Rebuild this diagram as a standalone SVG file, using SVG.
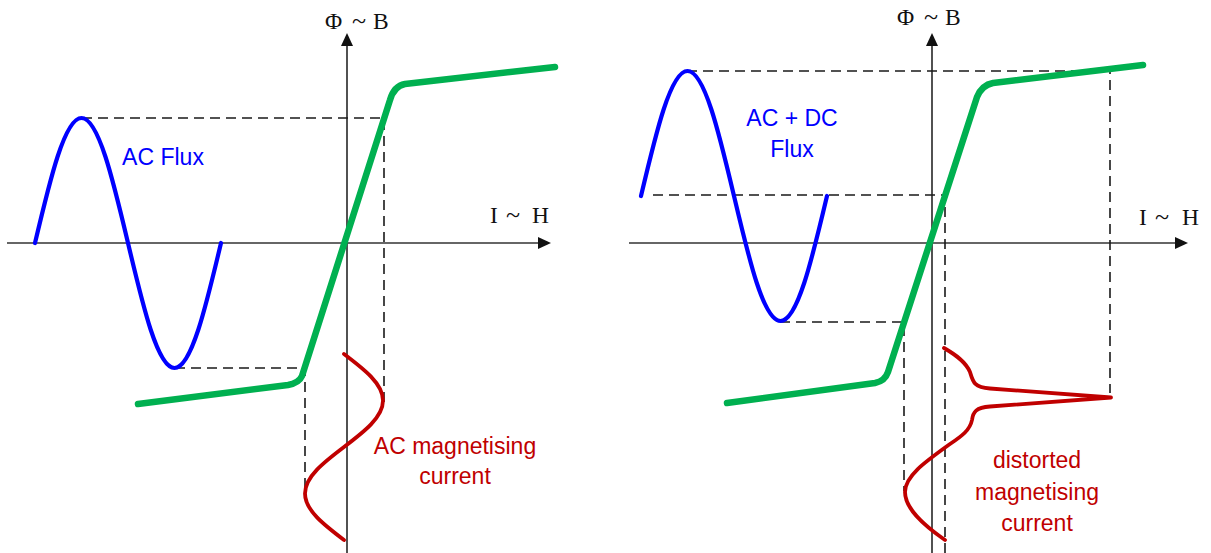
<svg xmlns="http://www.w3.org/2000/svg" width="1211" height="553" viewBox="0 0 1211 553">
<style>
.axis{stroke:#333;stroke-width:1.7;fill:none}
.dash{stroke:#1a1a1a;stroke-width:1.6;fill:none;stroke-dasharray:10 6}
.bh{stroke:#00b050;stroke-width:6.5;fill:none;stroke-linecap:round;stroke-linejoin:round}
.flux{stroke:#0000ff;stroke-width:4.2;fill:none;stroke-linecap:round}
.cur{stroke:#c00000;stroke-width:3.8;fill:none;stroke-linecap:round;stroke-linejoin:round}
.ax-lbl{font-family:"Liberation Serif","Times New Roman",serif;font-size:23.5px;fill:#111}
.blue-lbl{font-family:"Liberation Sans",Arial,sans-serif;font-size:23px;fill:#0000ff;text-anchor:middle}
.red-lbl{font-family:"Liberation Sans",Arial,sans-serif;font-size:23px;fill:#c00000;text-anchor:middle}
</style>
<defs>
<marker id="arr" markerUnits="userSpaceOnUse" markerWidth="14" markerHeight="12" refX="1" refY="6" orient="auto">
<path d="M0,0 L13,6 L0,12 z" fill="#111"/>
</marker>
</defs>

<g id="axes-left">
<line class="axis" x1="7" y1="243" x2="539" y2="243" marker-end="url(#arr)"/>
<line class="axis" x1="347" y1="553" x2="347" y2="45" marker-end="url(#arr)"/>
<text class="ax-lbl" y="29"><tspan x="325">Φ</tspan><tspan x="352" font-size="26">~</tspan><tspan x="373">B</tspan></text>
<text class="ax-lbl" y="223"><tspan x="490">I</tspan><tspan x="506" font-size="26">~</tspan><tspan x="532">H</tspan></text>
</g>

<g id="axes-right">
<line class="axis" x1="629" y1="243" x2="1176" y2="243" marker-end="url(#arr)"/>
<line class="axis" x1="932" y1="553" x2="932" y2="45" marker-end="url(#arr)"/>
<text class="ax-lbl" y="25"><tspan x="897">Φ</tspan><tspan x="924" font-size="26">~</tspan><tspan x="945">B</tspan></text>
<text class="ax-lbl" y="225"><tspan x="1139">I</tspan><tspan x="1155" font-size="26">~</tspan><tspan x="1182">H</tspan></text>
</g>

<g id="connectors">
<path class="dash" d="M82,118 H384 V405"/>
<path class="dash" d="M175,368 H305 V492"/>
<path class="dash" d="M687,71 H1110 V393"/>
<path class="dash" d="M653,195 H945 V553"/>
<path class="dash" d="M780,322 H904 V491"/>
</g>

<g id="bh-left">
<path class="bh" d="M138,404 L288,385 Q299,383 302,376 L390,100 Q394,86 405,84 L555,67"/>
</g>
<g id="bh-right">
<path class="bh" d="M727,403 L875,383 Q885,381 888,372 L977,97 Q982,85 993,83 L1143,65"/>
</g>

<g id="flux-left">
<path class="flux" d="M35,243 C50.16,178.96 64.67,118 81.5,118 C98.33,118 112.84,178.96 128,243 C143.16,307.04 157.67,368 174.5,368 C191.33,368 205.84,307.04 221,243"/>
<text class="blue-lbl" x="163" y="165">AC Flux</text>
</g>

<g id="flux-right">
<path class="flux" d="M641,196 C656.16,131.96 670.67,71 687.5,71 C704.33,71 718.84,131.96 734,196 C749.16,260.04 763.67,321 780.5,321 C797.33,321 811.84,260.04 827,196"/>
<text class="blue-lbl" x="792" y="126">AC + DC</text>
<text class="blue-lbl" x="792" y="157">Flux</text>
</g>

<g id="current-left">
<path class="cur" d="M344,354 C363.98,369.16 383,383.67 383,400.5 C383,417.33 363.98,431.84 344,447 C324.02,462.16 305,476.67 305,493.5 C305,510.33 324.02,524.84 344,540"/>
<text class="red-lbl" x="455" y="454">AC magnetising</text>
<text class="red-lbl" x="455" y="484">current</text>
</g>

<g id="current-right">
<path class="cur" d="M944,348 C956,355 966,362 970,372 C973,382 974,387.5 990,388.5 L1111,397.5 L990,406.5 C976,407.5 973,412 972,420 C970,430 962,436 950,444 C925,462 905,476 905,492 C905,508 922,524 945,540"/>
<text class="red-lbl" x="1037" y="468">distorted</text>
<text class="red-lbl" x="1037" y="500">magnetising</text>
<text class="red-lbl" x="1037" y="531">current</text>
</g>
</svg>
